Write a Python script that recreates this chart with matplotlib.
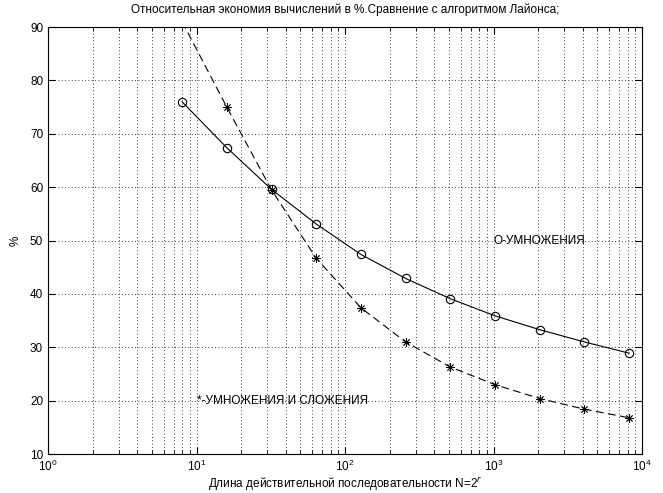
import matplotlib
matplotlib.use("Agg")
import matplotlib.pyplot as plt
from matplotlib.ticker import LogLocator, NullFormatter

plt.rcParams['font.family'] = ['Liberation Sans', 'DejaVu Sans']

N = [8, 16, 32, 64, 128, 256, 512, 1024, 2048, 4096, 8192]
mult = [76.0, 67.4, 59.6, 53.1, 47.4, 42.9, 39.1, 35.9, 33.3, 31.0, 28.9]
mult_add = [91.0, 75.0, 59.5, 46.7, 37.4, 31.0, 26.3, 23.0, 20.4, 18.4, 16.8]

title = "Относительная экономия вычислений в %.Сравнение с алгоритмом Лайонса;"
xlabel = "Длина действительной последовательности N=2$^r$"
ylabel = "%"
label_mult = "О-УМНОЖЕНИЯ"
label_mult_add = "*-УМНОЖЕНИЯ И СЛОЖЕНИЯ"
yticks = [10, 20, 30, 40, 50, 60, 70, 80, 90]

fig = plt.figure(figsize=(6.63, 4.93), dpi=100)
ax = fig.add_axes([0.0724, 0.079, 0.896, 0.866])

ax.plot(N, mult, color='black', linestyle='-', linewidth=0.8,
        marker='o', markersize=6, markerfacecolor='none', markeredgewidth=0.8)
ax.plot(N, mult_add, color='black', linestyle=(0, (7, 4)), linewidth=0.8,
        marker=(8, 2, 0), markersize=6, markeredgewidth=0.6)

ax.set_xscale('log')
ax.set_xlim(1, 1e4)
ax.set_ylim(10, 90)
ax.set_yticks(yticks)
ax.xaxis.set_major_locator(LogLocator(base=10, numticks=10))
ax.xaxis.set_minor_locator(LogLocator(base=10, subs=range(2, 10), numticks=50))
ax.xaxis.set_minor_formatter(NullFormatter())

ax.grid(True, which='major', axis='both', color='black', linestyle=(0, (1, 3)), linewidth=0.6)
ax.grid(True, which='minor', axis='x', color='black', linestyle=(0, (1, 3)), linewidth=0.6)

ax.tick_params(which='both', direction='in', top=True, right=True, labelsize=8.5, colors='black')
ax.tick_params(which='major', length=5)
ax.tick_params(which='minor', length=3)
for s in ax.spines.values():
    s.set_linewidth(0.8)

ax.text(1000, 50, label_mult, fontsize=8.5, va='center', ha='left')
ax.text(10, 20, label_mult_add, fontsize=8.5, va='center', ha='left')

ax.set_title(title, fontsize=8.5, pad=10)
ax.set_xlabel(xlabel, fontsize=8.5, labelpad=1)
ax.set_ylabel(ylabel, fontsize=8.5, labelpad=6)

fig.savefig('out.png', dpi=100, facecolor='white')
